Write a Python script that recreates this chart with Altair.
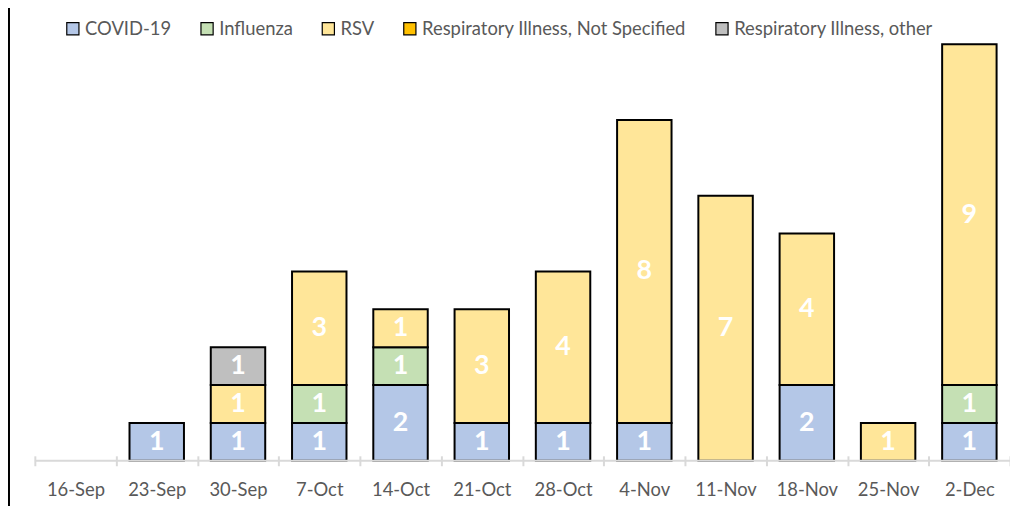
import altair as alt
import pandas as pd

weeks = ["16-Sep", "23-Sep", "30-Sep", "7-Oct", "14-Oct", "21-Oct",
         "28-Oct", "4-Nov", "11-Nov", "18-Nov", "25-Nov", "2-Dec"]
series = ["COVID-19", "Influenza", "RSV",
          "Respiratory Illness, Not Specified", "Respiratory Illness, other"]
covid = [0, 1, 1, 1, 2, 1, 1, 1, 0, 2, 0, 1]
influenza = [0, 0, 0, 1, 1, 0, 0, 0, 0, 0, 0, 1]
rsv = [0, 0, 1, 3, 1, 3, 4, 8, 7, 4, 1, 9]
not_specified = [0, 0, 0, 0, 0, 0, 0, 0, 0, 0, 0, 0]
other = [0, 0, 1, 0, 0, 0, 0, 0, 0, 0, 0, 0]
colors = ["#b4c7e7", "#c5e0b4", "#ffe699", "#ffc000", "#bfbfbf"]

rows = []
for si, (name, vals) in enumerate(zip(series, [covid, influenza, rsv, not_specified, other])):
    for w, v in zip(weeks, vals):
        if v > 0:
            rows.append({"week": w, "series": name, "order": si, "count": v})
df = pd.DataFrame(rows)

W, H = 981, 419
FONT = "Lato"

x = alt.X("week:N", sort=weeks, scale=alt.Scale(domain=weeks, paddingInner=0, paddingOuter=0),
          axis=alt.Axis(title=None, domain=False, ticks=True, tickBand="extent", tickSize=10,
                        tickColor="#d9d9d9", tickWidth=2, offset=-5, labelAngle=0,
                        labelFont=FONT, labelFontSize=18.5, labelColor="#595959",
                        labelPadding=15, labelBaseline="top"))

base = alt.Chart(df).transform_stack(
    stack="count", groupby=["week"], as_=["y0", "y1"],
    sort=[alt.SortField("order", order="ascending")]
)

bars = base.mark_bar(width={"band": 0.67}, stroke="black", strokeWidth=2).encode(
    x=x,
    y=alt.Y("y0:Q", scale=alt.Scale(domain=[0, 11], nice=False), axis=None),
    y2="y1:Q",
    color=alt.Color("series:N", scale=alt.Scale(domain=series, range=colors),
                    legend=alt.Legend(title=None, orient="none", direction="horizontal",
                                      legendX=29, legendY=-25, padding=0,
                                      symbolType="square", symbolSize=150,
                                      symbolStrokeColor="black", symbolStrokeWidth=1.2,
                                      labelFont=FONT, labelFontSize=18.5, labelColor="#595959",
                                      labelLimit=0, columnPadding=26, labelOffset=3)),
)

labels = base.transform_calculate(mid="(datum.y0 + datum.y1) / 2").mark_text(
    color="white", fontWeight="bold", fontSize=27, font=FONT, baseline="middle"
).encode(
    x=alt.X("week:N", sort=weeks),
    y=alt.Y("mid:Q"),
    text="count:Q",
)

zero_df = pd.DataFrame({"zero": [0]})
baseline = alt.Chart(zero_df).mark_rule(color="#d9d9d9", strokeWidth=2).encode(
    y="zero:Q"
)

edge_df = pd.DataFrame({"lo": [-1.3], "hi": [12]})
border = alt.Chart(edge_df).mark_rule(color="black", strokeWidth=2).encode(
    x=alt.value(-26), y="lo:Q", y2="hi:Q"
)

chart = alt.layer(bars, labels, baseline, border).properties(
    width=W, height=H,
    padding={"left": 27, "top": 35, "right": 0, "bottom": 44},
    autosize=alt.AutoSizeParams(type="none"),
).configure_view(stroke=None)

chart.save("out.html", embed_options={"renderer": "svg", "actions": False})
